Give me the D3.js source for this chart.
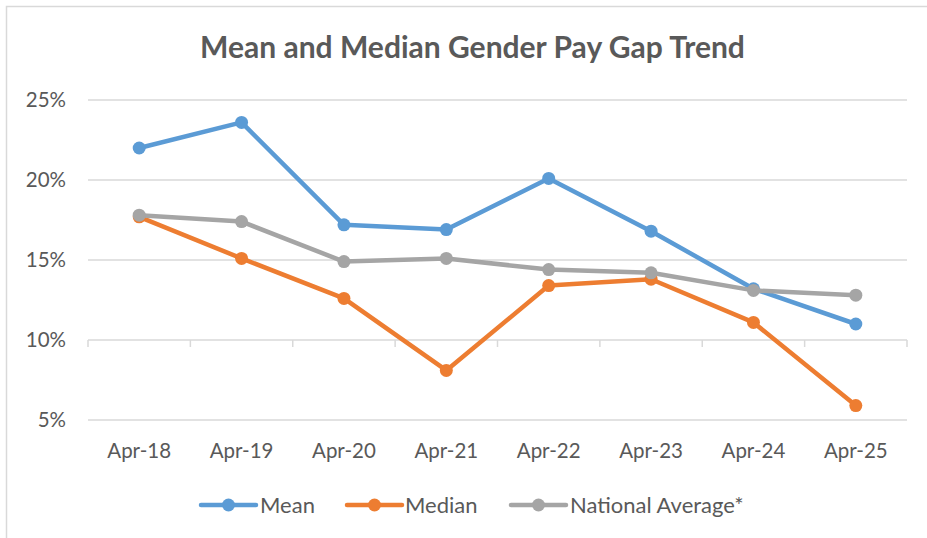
<!DOCTYPE html>
<html>
<head>
<meta charset="utf-8">
<script src="https://cdn.jsdelivr.net/npm/d3@7"></script>
<style>
  html, body { margin: 0; padding: 0; background: #fff; }
  svg { display: block; font-family: Lato, "Open Sans", sans-serif; }
</style>
</head>
<body>
<div id="chart"></div>
<script>
// --- data ---
const categories = ["Apr-18", "Apr-19", "Apr-20", "Apr-21", "Apr-22", "Apr-23", "Apr-24", "Apr-25"];
const meanValues     = [22.0, 23.6, 17.2, 16.9, 20.1, 16.8, 13.2, 11.0];
const medianValues   = [17.7, 15.1, 12.6, 8.1, 13.4, 13.8, 11.1, 5.9];
const nationalValues = [17.8, 17.4, 14.9, 15.1, 14.4, 14.2, 13.1, 12.8];
const yTicks = [5, 10, 15, 20, 25];
const seriesNames = ["Mean", "Median", "National Average*"];

const series = [
  { name: seriesNames[0], values: meanValues,     color: "#5B9BD5" },
  { name: seriesNames[1], values: medianValues,   color: "#ED7D31" },
  { name: seriesNames[2], values: nationalValues, color: "#A5A5A5" }
];

// --- dims ---
const width = 927, height = 538;
const plot = { left: 88, right: 907, top: 100, bottom: 420 };
const textColor = "#595959";
const gridColor = "#d9d9d9";

const svg = d3.select("#chart").append("svg")
  .attr("width", width)
  .attr("height", height);

// chart area border (top + left visible)
svg.append("rect")
  .attr("x", 6.5).attr("y", 6.5)
  .attr("width", width + 10).attr("height", height + 10)
  .attr("fill", "#fff")
  .attr("stroke", gridColor)
  .attr("stroke-width", 1.5);

// fit text to a target width (matches the reference font metrics)
function fitText(sel, targetWidth) {
  const node = sel.node();
  const fs = parseFloat(sel.style("font-size"));
  const w = node.getComputedTextLength();
  if (w > 0) sel.style("font-size", (fs * targetWidth / w).toFixed(2) + "px");
}

// title
const title = svg.append("text")
  .attr("x", 472.5).attr("y", 58)
  .attr("text-anchor", "middle")
  .attr("fill", textColor)
  .style("font-weight", 700)
  .style("font-size", "26px")
  .text("Mean and Median Gender Pay Gap Trend");
fitText(title, 545);

// scales
const x = d3.scaleBand().domain(categories).range([plot.left, plot.right]);
const y = d3.scaleLinear().domain([5, 25]).range([plot.bottom, plot.top]);

// gridlines (skip 10%, where the category axis sits)
svg.append("g")
  .selectAll("line")
  .data(yTicks.filter(d => d !== 10))
  .join("line")
  .attr("x1", plot.left).attr("x2", plot.right)
  .attr("y1", d => y(d)).attr("y2", d => y(d))
  .attr("stroke", gridColor)
  .attr("stroke-width", 1.5);

const axisFont = "20.5px";

// y labels
svg.append("g")
  .selectAll("text")
  .data(yTicks)
  .join("text")
  .attr("x", 66)
  .attr("y", d => y(d))
  .attr("dy", "0.35em")
  .attr("text-anchor", "end")
  .attr("fill", textColor)
  .style("font-size", axisFont)
  .text(d => d + "%");

// category axis crossing at 10%, ticks at category boundaries
const axisY = y(10);
svg.append("line")
  .attr("x1", plot.left).attr("x2", plot.right)
  .attr("y1", axisY).attr("y2", axisY)
  .attr("stroke", gridColor)
  .attr("stroke-width", 1.5);

const bounds = categories.map(c => x(c)).concat([plot.right]);
svg.append("g")
  .selectAll("line")
  .data(bounds)
  .join("line")
  .attr("x1", d => d).attr("x2", d => d)
  .attr("y1", axisY).attr("y2", axisY + 7)
  .attr("stroke", gridColor)
  .attr("stroke-width", 1.5);

// category labels (low position)
svg.append("g")
  .selectAll("text")
  .data(categories)
  .join("text")
  .attr("x", d => x(d) + x.bandwidth() / 2)
  .attr("y", 451)
  .attr("dy", "0.35em")
  .attr("text-anchor", "middle")
  .attr("fill", textColor)
  .style("font-size", axisFont)
  .text(d => d);

// lines + markers
const line = d3.line()
  .x((d, i) => x(categories[i]) + x.bandwidth() / 2)
  .y(d => y(d));

const sg = svg.append("g").selectAll("g")
  .data(series)
  .join("g");

sg.append("path")
  .attr("d", d => line(d.values))
  .attr("fill", "none")
  .attr("stroke", d => d.color)
  .attr("stroke-width", 4.5)
  .attr("stroke-linejoin", "round")
  .attr("stroke-linecap", "round");

sg.selectAll("circle")
  .data(d => d.values.map((v, i) => ({ v, i, color: d.color })))
  .join("circle")
  .attr("cx", d => x(categories[d.i]) + x.bandwidth() / 2)
  .attr("cy", d => y(d.v))
  .attr("r", 6.5)
  .attr("fill", d => d.color);

// legend
const legendY = 505;
const legendItems = [
  { lineX: 201, textX: 260 },
  { lineX: 347, textX: 405 },
  { lineX: 511, textX: 570 }
];
const lg = svg.append("g").selectAll("g")
  .data(series)
  .join("g")
  .attr("transform", (d, i) => `translate(${legendItems[i].lineX},${legendY})`);

lg.append("line")
  .attr("x1", 0).attr("x2", 55)
  .attr("stroke", d => d.color)
  .attr("stroke-width", 4.5)
  .attr("stroke-linecap", "round");

lg.append("circle")
  .attr("cx", 27.5).attr("r", 6.5)
  .attr("fill", d => d.color);

lg.append("text")
  .attr("x", (d, i) => legendItems[i].textX - legendItems[i].lineX)
  .attr("dy", "0.35em")
  .attr("fill", textColor)
  .style("font-size", "22px")
  .text(d => d.name);
</script>
</body>
</html>
